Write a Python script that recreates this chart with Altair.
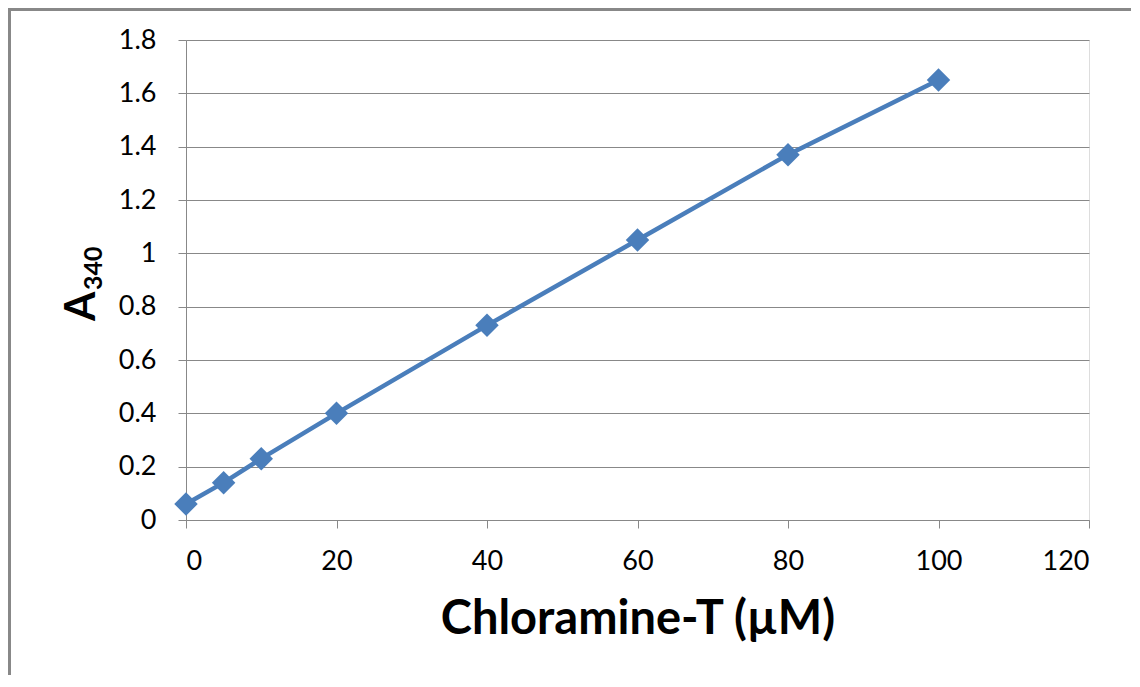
import altair as alt
import pandas as pd

conc = [0, 5, 10, 20, 40, 60, 80, 100]
absorb = [0.06, 0.14, 0.23, 0.40, 0.73, 1.05, 1.37, 1.65]

df = pd.DataFrame({"x": conc, "y": absorb})
one = pd.DataFrame({"k": [0]})

FONT = "Lato"
GRID = "#888888"
BLUE = "#4a7ebb"

xenc = alt.X("x:Q", scale=alt.Scale(domain=[0, 120], nice=False),
             axis=alt.Axis(values=list(range(0, 121, 20)), title="Chloramine-T (µM)",
                           grid=False, tickSize=8, labelPadding=20, titlePadding=22,
                           labelFontSize=27, titleFontSize=47, titleFontWeight="bold",
                           labelFont=FONT, titleFont=FONT, domainColor=GRID, tickColor=GRID,
                           labelColor="#000000", titleColor="#000000"))
yenc = alt.Y("y:Q", scale=alt.Scale(domain=[0, 1.8], nice=False),
             axis=alt.Axis(values=[0, 0.2, 0.4, 0.6, 0.8, 1.0, 1.2, 1.4, 1.6, 1.8],
                           title=None, grid=True, gridColor=GRID, gridOpacity=1,
                           tickSize=8, labelPadding=22,
                           labelFontSize=27, labelFont=FONT, domainColor=GRID, tickColor=GRID,
                           labelColor="#000000",
                           labelExpr="format(datum.value, '.1~f')"))

line = alt.Chart(df).mark_line(color=BLUE, strokeWidth=4.5).encode(x=xenc, y=yenc)
pts = alt.Chart(df).mark_point(shape="diamond", filled=True, color=BLUE, size=550, opacity=1).encode(x="x:Q", y="y:Q")

# y-axis title "A" with subscript "340"
ytitle_a = alt.Chart(one).mark_text(text="A", font=FONT, fontSize=42, fontWeight="bold",
                                    angle=270, align="left", baseline="alphabetic",
                                    color="#000000").encode(x=alt.value(-91), y=alt.value(281))
ytitle_sub = alt.Chart(one).mark_text(text="340", font=FONT, fontSize=25, fontWeight="bold",
                                      angle=270, align="left", baseline="alphabetic",
                                      color="#000000").encode(x=alt.value(-84), y=alt.value(250))

# outer frame (left and top edges, as in the reference screenshot)
frame_left = alt.Chart(one).mark_rule(color=GRID, strokeWidth=3).encode(
    x=alt.value(-176.5), y=alt.value(-32), y2=alt.value(700))
frame_top = alt.Chart(one).mark_rule(color=GRID, strokeWidth=3).encode(
    x=alt.value(-178), x2=alt.value(1000), y=alt.value(-30.5))

chart = (frame_left + frame_top + line + pts + ytitle_a + ytitle_sub).properties(
    width=903, height=480,
    padding={"left": 178, "top": 32, "right": 42, "bottom": 155},
    autosize=alt.AutoSizeParams(type="none"),
).configure_view(stroke=None).configure(background="white")

chart.save("out.html", embed_options={"renderer": "svg", "actions": False})
